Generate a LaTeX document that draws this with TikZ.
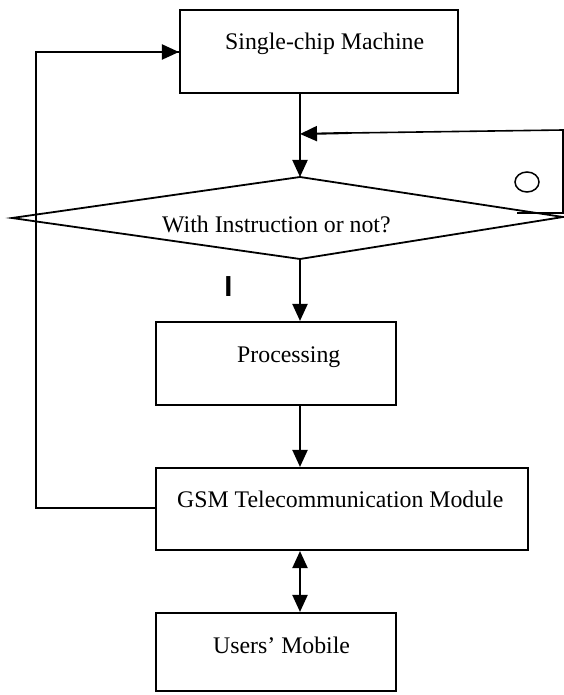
\documentclass[tikz,border=0pt]{standalone}
\usepackage{fontspec}
\setmainfont{Liberation Serif}
\newfontfamily\barfont{Liberation Sans}
\usetikzlibrary{arrows.meta,shapes.geometric}
\tikzset{
  box/.style={draw, line width=2.1pt, rectangle, inner sep=0pt},
  lbl/.style={anchor=base west, inner sep=0pt, font=\fontsize{23.8}{28}\selectfont},
  conn/.style={line width=2.1pt},
  arr/.style={line width=2.1pt, -{Triangle[length=17pt,width=15pt]}},
  darr/.style={line width=2.1pt, {Triangle[length=17pt,width=15pt]}-{Triangle[length=17pt,width=15pt]}},
}
\begin{document}
\begin{tikzpicture}[x=1pt,y=-1pt]
\path[use as bounding box] (0,0) rectangle (564,695);
% boxes
\node[box, minimum width=278pt, minimum height=83pt] (sc) at (319,51.5) {};
\node[box, minimum width=240pt, minimum height=83pt] (pr) at (276,363.5) {};
\node[box, minimum width=372pt, minimum height=82pt] (gsm) at (342,509) {};
\node[box, minimum width=240pt, minimum height=78pt] (um) at (276,652) {};
% labels
\node[lbl] (scT) at (225,50) {Single-chip Machine};
\node[lbl] (prT) at (237,362) {Processing};
\node[lbl] (gsmT) at (177,507) {GSM Telecommunication Module};
\node[lbl] (umT) at (213,653) {Users’ Mobile};
% diamond
\coordinate (dT) at (300,177);
\coordinate (dR) at (563,217);
\coordinate (dB) at (300,259);
\coordinate (dL) at (12,218);
\draw[line width=1.8pt, line join=miter] (dT) -- (dR) -- (dB) -- (dL) -- cycle;
\node[lbl] (dTxt) at (162,232) {With Instruction or not?};
% axis
\coordinate (ax) at (300,0);
% arrows down
\coordinate (j) at (300,134);
\draw[arr] (sc.south -| ax) -- (dT);
\draw[arr] (dB) -- (pr.north -| ax);
\draw[arr] (pr.south -| ax) -- (gsm.north -| ax);
\draw[darr] (gsm.south -| ax) -- (um.north -| ax);
% feedback right
\coordinate (f1) at (517,213);
\coordinate (f2) at (563,213);
\coordinate (f3) at (563,130);
\coordinate (f4) at (348,133);
\draw[conn, line width=1.6pt] (f1) -- (f2) -- (f3) -- (f4);
\draw[arr] (f4) -- (j);
% loop left
\coordinate (l1) at (36,508);
\coordinate (l2) at (36,52);
\draw[conn] (gsm.west |- l1) -- (l1) -- (l2) -- (sc.west |- l2);
\draw[arr] (l2) -- (sc.west |- l2);
% circle
\node[draw, ellipse, line width=1.5pt, minimum width=24pt, minimum height=20pt, inner sep=0pt] (circ) at (527,182) {};
% bar mark
\node[anchor=base, inner sep=0pt, font=\barfont\bfseries\fontsize{29}{32}\selectfont] (mark) at (228.5,296) {I};
\end{tikzpicture}
\end{document}
